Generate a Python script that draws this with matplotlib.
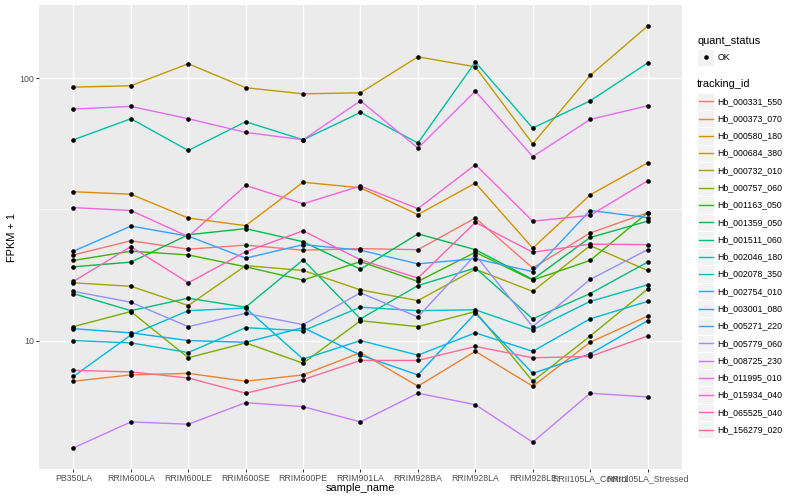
import numpy as np
import matplotlib
matplotlib.use("Agg")
import matplotlib.pyplot as plt
from matplotlib.patches import Rectangle

plt.rcParams['font.family'] = ['Liberation Sans', 'DejaVu Sans']

samples = ["PB350LA", "RRIM600LA", "RRIM600LE", "RRIM600SE", "RRIM600PE",
           "RRIM901LA", "RRIM928BA", "RRIM928LA", "RRIM928LE",
           "RRII105LA_Control", "RRII105LA_Stressed"]

tracking_ids = ["Hb_000331_550", "Hb_000373_070", "Hb_000580_180", "Hb_000684_380",
                "Hb_000732_010", "Hb_000757_060", "Hb_001163_050", "Hb_001359_050",
                "Hb_001511_060", "Hb_002046_180", "Hb_002078_350", "Hb_002754_010",
                "Hb_003001_080", "Hb_005271_220", "Hb_005779_060", "Hb_008725_230",
                "Hb_011995_010", "Hb_015934_040", "Hb_065525_040", "Hb_156279_020"]

# FPKM + 1, one list per tracking_id, in sample order
hb_000331_550 = [21.2, 24.0, 22.3, 23.1, 22.1, 22.4, 22.2, 29.3, 18.9, 25.7, 30.7]
hb_000373_070 = [7.0, 7.4, 7.5, 7.0, 7.4, 9.0, 6.7, 9.1, 6.7, 9.85, 12.4]
hb_000580_180 = [36.9, 36.1, 29.3, 27.4, 40.1, 38.2, 30.2, 39.8, 22.5, 35.9, 47.5]
hb_000684_380 = [92.4, 93.5, 113.4, 91.9, 87.1, 87.9, 120.5, 110.4, 56.2, 102.3, 157.8]
hb_000732_010 = [16.6, 16.1, 13.6, 19.3, 18.5, 15.6, 14.2, 18.7, 15.4, 23.0, 18.5]
hb_000757_060 = [11.3, 12.9, 8.6, 9.8, 8.2, 11.9, 11.3, 12.9, 7.0, 10.4, 15.7]
hb_001163_050 = [20.2, 21.9, 21.2, 19.1, 17.0, 20.0, 16.8, 21.7, 17.0, 20.2, 30.7]
hb_001359_050 = [19.1, 19.9, 25.3, 26.7, 23.8, 18.7, 25.5, 22.2, 17.1, 24.7, 28.5]
hb_001511_060 = [15.1, 13.0, 14.5, 13.4, 20.3, 12.1, 16.2, 18.9, 12.1, 15.1, 19.9]
hb_002046_180 = [58.2, 70.0, 53.0, 68.2, 58.2, 74.0, 56.6, 115.1, 64.5, 81.9, 114.1]
hb_002078_350 = [10.0, 9.8, 9.0, 11.2, 10.9, 13.4, 13.0, 13.1, 11.0, 14.1, 16.3]
hb_002754_010 = [7.3, 10.5, 13.0, 13.3, 8.5, 10.0, 8.8, 10.7, 9.1, 12.1, 14.1]
hb_003001_080 = [11.1, 10.7, 10.0, 9.85, 11.2, 8.8, 7.4, 12.7, 7.5, 8.9, 11.9]
hb_005271_220 = [21.9, 27.3, 25.0, 20.6, 23.2, 22.1, 19.6, 20.5, 18.3, 31.3, 29.4]
hb_005779_060 = [15.4, 14.0, 11.3, 12.7, 11.5, 15.2, 12.3, 21.2, 11.3, 17.1, 22.2]
hb_008725_230 = [3.9, 4.9, 4.8, 5.8, 5.6, 4.9, 6.3, 5.7, 4.1, 6.3, 6.1]
hb_011995_010 = [76.2, 78.0, 70.0, 62.1, 58.2, 81.9, 54.1, 89.2, 50.2, 69.6, 78.4]
hb_015934_040 = [32.1, 31.3, 24.9, 39.0, 33.2, 38.8, 31.8, 46.8, 28.5, 30.0, 40.6]
hb_065525_040 = [16.8, 22.8, 16.6, 21.8, 26.2, 20.3, 17.3, 28.2, 21.7, 23.3, 23.2]
hb_156279_020 = [7.7, 7.6, 7.2, 6.3, 7.1, 8.4, 8.4, 9.5, 8.6, 8.7, 10.4]

series = [hb_000331_550, hb_000373_070, hb_000580_180, hb_000684_380,
          hb_000732_010, hb_000757_060, hb_001163_050, hb_001359_050,
          hb_001511_060, hb_002046_180, hb_002078_350, hb_002754_010,
          hb_003001_080, hb_005271_220, hb_005779_060, hb_008725_230,
          hb_011995_010, hb_015934_040, hb_065525_040, hb_156279_020]


def hcl_hex(h, c, l):
    # polar LUV -> sRGB, same as R's hcl()
    xn, yn, zn = 95.047, 100.0, 108.883
    un = 4 * xn / (xn + 15 * yn + 3 * zn)
    vn = 9 * yn / (xn + 15 * yn + 3 * zn)
    u = c * np.cos(np.radians(h))
    v = c * np.sin(np.radians(h))
    y = yn * ((l + 16) / 116) ** 3 if l > 8 else yn * l / 903.3
    uu = u / (13 * l) + un
    vv = v / (13 * l) + vn
    x = 9.0 * y * uu / (4 * vv)
    z = -x / 3 - 5 * y + 3 * y / vv
    x, y, z = x / 100, y / 100, z / 100
    rgb = [3.240479 * x - 1.537150 * y - 0.498535 * z,
           -0.969256 * x + 1.875992 * y + 0.041556 * z,
           0.055648 * x - 0.204043 * y + 1.057311 * z]
    out = []
    for ch in rgb:
        ch = 12.92 * ch if ch <= 0.0031308 else 1.055 * ch ** (1 / 2.4) - 0.055
        out.append(min(max(ch, 0), 1))
    return tuple(out)


n = len(tracking_ids)
colors = [hcl_hex(h, 100, 65) for h in np.linspace(15, 375, n + 1)[:-1]]

fig = plt.figure(figsize=(8, 5), dpi=100)
ax = fig.add_axes([39 / 800, 1 - 469 / 500, (682 - 39) / 800, (469 - 5) / 500])
ax.set_facecolor('#EBEBEB')
for s in ax.spines.values():
    s.set_visible(False)

x = np.arange(len(samples))
for vals, col in zip(series, colors):
    ax.plot(x, vals, color=col, lw=1.0, zorder=2)
for vals in series:
    ax.plot(x, vals, 'o', color='black', ms=3.3, mew=0, zorder=3)

ax.set_yscale('log')
allv = np.log10(np.concatenate([np.array(v) for v in series]))
lo, hi = allv.min(), allv.max()
pad = (hi - lo) * 0.05
ax.set_ylim(10 ** (lo - pad), 10 ** (hi + pad))
ax.set_xlim(-0.6, len(samples) - 0.4)

ax.set_yticks([10, 100])
ax.set_yticklabels(['10', '100'])
ax.yaxis.set_minor_locator(matplotlib.ticker.FixedLocator([10 ** 0.5, 10 ** 1.5, 10 ** 2.5]))
ax.yaxis.set_minor_formatter(matplotlib.ticker.NullFormatter())
ax.set_xticks(x)
ax.set_xticklabels(samples)

ax.set_axisbelow(True)
ax.grid(which='major', color='white', lw=1.0)
ax.grid(which='minor', axis='y', color='white', lw=0.5)
ax.tick_params(which='major', length=2.0, width=0.7, color='#333333',
               labelsize=6.34, labelcolor='#4D4D4D', pad=1.6)
ax.tick_params(which='minor', length=0)

fig.text(12 / 800, 1 - 237 / 500, 'FPKM + 1', rotation=90, ha='center', va='center', fontsize=7.92)
fig.text(360.5 / 800, 1 - 488 / 500, 'sample_name', ha='center', va='center', fontsize=7.92)

# legends, drawn in pixel coordinates
lax = fig.add_axes([0, 0, 1, 1])
lax.set_xlim(0, 800)
lax.set_ylim(500, 0)
lax.axis('off')

lax.text(697, 40.5, 'quant_status', ha='left', va='center', fontsize=7.92)
lax.add_patch(Rectangle((697, 48.5), 17, 17, facecolor='#F2F2F2', edgecolor='white', lw=0.7))
lax.plot([705.5], [57], 'o', color='black', ms=3.3, mew=0)
lax.text(717.5, 57, 'OK', ha='left', va='center', fontsize=6.34)

lax.text(697, 84, 'tracking_id', ha='left', va='center', fontsize=7.92)
for i, (tid, col) in enumerate(zip(tracking_ids, colors)):
    yc = 101.3 + 17.28 * i
    lax.add_patch(Rectangle((697, yc - 8.64), 17.28, 17.28, facecolor='#F2F2F2',
                            edgecolor='white', lw=0.7))
    lax.plot([698.5, 712.8], [yc, yc], color=col, lw=1.0)
    lax.text(717.5, yc, tid, ha='left', va='center', fontsize=6.34)

fig.savefig('out.png', dpi=100)
